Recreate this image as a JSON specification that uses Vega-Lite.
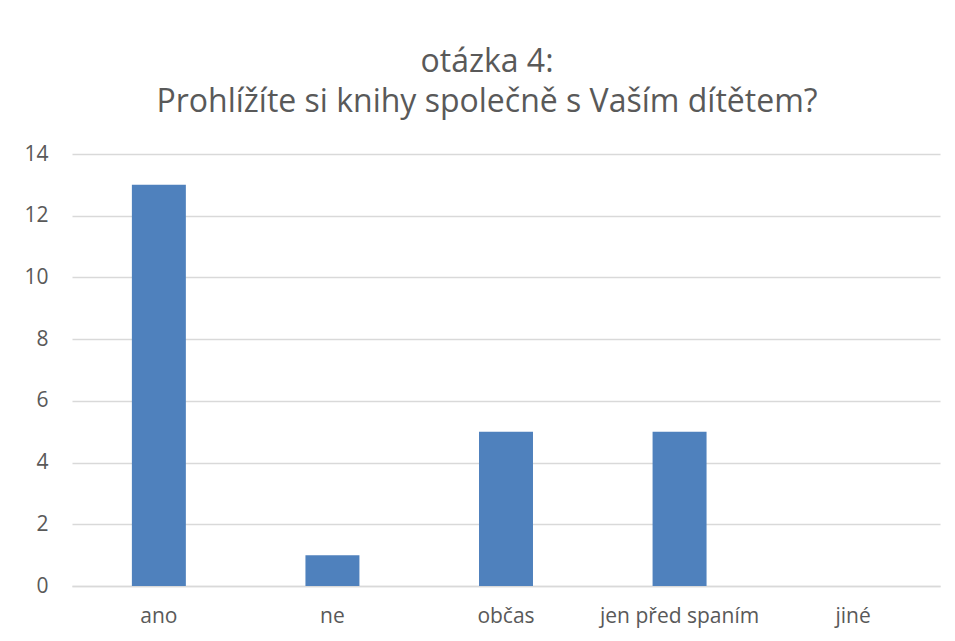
{
  "$schema": "https://vega.github.io/schema/vega-lite/v6.json",
  "width": 868,
  "height": 432,
  "autosize": {"type": "none"},
  "padding": {"left": 72, "top": 154, "right": 15, "bottom": 55},
  "background": "white",
  "title": {
    "text": ["otázka 4:", "Prohlížíte si knihy společně s Vaším dítětem?"],
    "font": "Open Sans",
    "fontSize": 32,
    "fontWeight": "normal",
    "color": "#595959",
    "lineHeight": 40,
    "baseline": "alphabetic",
    "anchor": "middle",
    "frame": "group",
    "offset": -1,
    "dx": -19
  },
  "data": {
    "values": [
      {"kategorie": "ano", "pocet": 13},
      {"kategorie": "ne", "pocet": 1},
      {"kategorie": "občas", "pocet": 5},
      {"kategorie": "jen před spaním", "pocet": 5},
      {"kategorie": "jiné", "pocet": 0}
    ]
  },
  "mark": {"type": "bar", "color": "#4f81bd"},
  "encoding": {
    "x": {
      "field": "kategorie",
      "type": "nominal",
      "sort": null,
      "scale": {"paddingInner": 0.689, "paddingOuter": 0.345},
      "axis": {
        "title": null,
        "labelAngle": 0,
        "labelFont": "Open Sans",
        "labelFontSize": 21,
        "labelColor": "#595959",
        "labelPadding": 19,
        "ticks": false,
        "domainColor": "#d9d9d9",
        "domainWidth": 1.5
      }
    },
    "y": {
      "field": "pocet",
      "type": "quantitative",
      "scale": {"domain": [0, 14]},
      "axis": {
        "title": null,
        "values": [0, 2, 4, 6, 8, 10, 12, 14],
        "labelFont": "Open Sans",
        "labelFontSize": 21,
        "labelColor": "#595959",
        "labelPadding": 24,
        "ticks": false,
        "domain": false,
        "gridColor": "#d9d9d9",
        "gridWidth": 1.5
      }
    }
  },
  "config": {"view": {"stroke": null}}
}
